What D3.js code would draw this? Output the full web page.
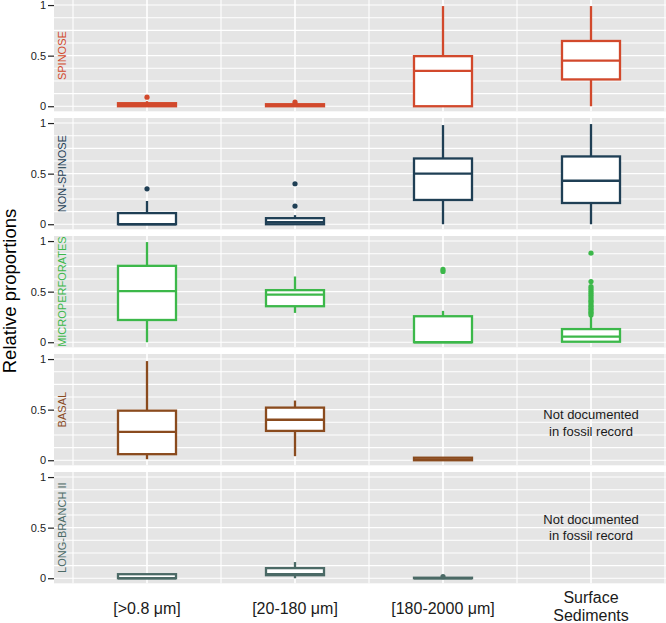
<!DOCTYPE html>
<html>
<head>
<meta charset="utf-8">
<script src="https://cdn.jsdelivr.net/npm/d3@7"></script>
<style>
  html, body { margin: 0; padding: 0; background: #ffffff; }
  svg { display: block; font-family: "Liberation Sans", Arial, sans-serif; }
</style>
</head>
<body>
<svg id="chart" width="666" height="623"></svg>
<script>
// ---------- data ----------
const categories = ["[>0.8 μm]", "[20-180 μm]", "[180-2000 μm]", "Surface\nSediments"];
const groups = ["SPINOSE", "NON-SPINOSE", "MICROPERFORATES", "BASAL", "LONG-BRANCH II"];
const groupColors = ["#d2492c", "#1f3f55", "#3cb84a", "#8a4b1e", "#4b6a66"];
const yTicks = [0, 0.5, 1];
const yTickLabels = ["0", "0.5", "1"];

// box statistics per category: [whiskerLow, q1, median, q3, whiskerHigh]
const spinoseStats = [[0, 0, 0.01, 0.03, 0.05], [0, 0, 0.005, 0.02, 0.03], [0, 0, 0.35, 0.495, 0.99], [0, 0.265, 0.45, 0.645, 0.99]];
const spinoseOutliers = [[0.09], [0.04], [], []];

const nonSpinoseStats = [[0, 0, 0, 0.11, 0.23], [0, 0, 0.02, 0.06, 0.09], [0, 0.24, 0.50, 0.65, 0.98], [0, 0.21, 0.43, 0.67, 0.99]];
const nonSpinoseOutliers = [[0.35], [0.18, 0.40], [], []];

const microStats = [[0, 0.22, 0.505, 0.755, 0.99], [0.29, 0.356, 0.47, 0.515, 0.65], [0, 0, 0, 0.257, 0.31], [0, 0.005, 0.056, 0.13, 0.25]];
const microOutliers = [[], [], [0.70, 0.72],
  [0.27, 0.29, 0.30, 0.32, 0.33, 0.35, 0.36, 0.38, 0.40, 0.41, 0.43, 0.45, 0.47, 0.49, 0.51, 0.53, 0.55, 0.60, 0.88]];

const basalStats = [[0.01, 0.06, 0.28, 0.49, 0.98], [0.04, 0.29, 0.40, 0.52, 0.59], [0, 0, 0.005, 0.025, 0.03], null];
const basalOutliers = [[], [], [], []];

const longBranchStats = [[0, 0, 0, 0.04, 0.04], [0, 0.03, 0.04, 0.10, 0.16], [0, 0, 0, 0.005, 0.005], null];
const longBranchOutliers = [[], [], [0.015], []];

const noteText = ["Not documented", "in fossil record"];
const noteValues = [null, null, null, 0.37, 0.5]; // vertical anchor per panel (null = no note)

const allStats = [spinoseStats, nonSpinoseStats, microStats, basalStats, longBranchStats];
const allOutliers = [spinoseOutliers, nonSpinoseOutliers, microOutliers, basalOutliers, longBranchOutliers];

// ---------- layout ----------
const svg = d3.select("#chart");
const panelLeft = 54, panelRight = 666;
const panelStep = 118, panelHeight = 111.3;
const boxWidth = 58;
const lineW = 2.3;

const x = d3.scalePoint().domain(categories).range([147, 591]);
const step = x.step();
const gridX = d3.range(0.5, 4.51, 0.5).map(k => 147 + (k - 1) * step);
const gridY = d3.range(0, 1.0001, 0.125);

groups.forEach((g, i) => {
  const top = i * panelStep;
  const y = d3.scaleLinear().domain([-0.05, 1.05]).range([top + panelHeight, top]);
  const col = groupColors[i];
  const gp = svg.append("g");

  gp.append("rect").attr("x", panelLeft).attr("y", top)
    .attr("width", panelRight - panelLeft).attr("height", panelHeight)
    .attr("fill", "#e5e5e5");

  gp.selectAll(".hg").data(gridY).enter().append("line")
    .attr("x1", panelLeft).attr("x2", panelRight)
    .attr("y1", d => y(d)).attr("y2", d => y(d))
    .attr("stroke", "#ffffff").attr("stroke-width", 1.1);

  gp.selectAll(".vg").data(gridX.filter(v => v > panelLeft && v < panelRight)).enter().append("line")
    .attr("x1", d => d).attr("x2", d => d)
    .attr("y1", top).attr("y2", top + panelHeight)
    .attr("stroke", "#ffffff").attr("stroke-width", (d, j) => (j % 2 === 1 ? 1.6 : 1.1));

  // y axis
  const axis = d3.axisLeft(y).tickValues(yTicks).tickFormat((d, j) => yTickLabels[j]).tickSize(6).tickPadding(2);
  const ax = svg.append("g").attr("transform", `translate(${panelLeft},0)`).call(axis);
  ax.select(".domain").remove();
  ax.selectAll(".tick line").attr("stroke", "#222").attr("stroke-width", 1.2);
  ax.selectAll(".tick text").attr("fill", "#222").style("font-size", "11px")
    .style("font-family", '"Liberation Sans", Arial, sans-serif');

  // strip label
  gp.append("text")
    .attr("transform", `translate(66,${top + panelHeight / 2}) rotate(-90)`)
    .attr("text-anchor", "middle")
    .attr("fill", col).style("font-size", "11px")
    .text(g);

  // boxes
  allStats[i].forEach((s, c) => {
    if (!s) return;
    const cx = x(categories[c]);
    const [lo, q1, med, q3, hi] = s;
    if (hi > q3) gp.append("line").attr("x1", cx).attr("x2", cx).attr("y1", y(q3)).attr("y2", y(hi))
      .attr("stroke", col).attr("stroke-width", lineW);
    if (lo < q1) gp.append("line").attr("x1", cx).attr("x2", cx).attr("y1", y(q1)).attr("y2", y(lo))
      .attr("stroke", col).attr("stroke-width", lineW);
    gp.append("rect").attr("x", cx - boxWidth / 2).attr("width", boxWidth)
      .attr("y", y(q3)).attr("height", Math.max(0, y(q1) - y(q3)))
      .attr("fill", "#ffffff").attr("stroke", col).attr("stroke-width", lineW);
    gp.append("line").attr("x1", cx - boxWidth / 2).attr("x2", cx + boxWidth / 2)
      .attr("y1", y(med)).attr("y2", y(med))
      .attr("stroke", col).attr("stroke-width", lineW);
    gp.selectAll(null).data(allOutliers[i][c]).enter().append("circle")
      .attr("cx", cx).attr("cy", d => y(d)).attr("r", 2.6).attr("fill", col);
  });

  // note
  if (noteValues[i] !== null) {
    const cx = x(categories[3]);
    const ny = y(noteValues[i]);
    noteText.forEach((t, k) => {
      gp.append("text").attr("x", cx).attr("y", ny - 4 + k * 16.7)
        .attr("text-anchor", "middle").attr("fill", "#1a1a1a").style("font-size", "13px").text(t);
    });
  }
});

// x axis labels
categories.forEach(c => {
  const lines = c.split("\n");
  const t = svg.append("text").attr("text-anchor", "middle").attr("fill", "#1a1a1a").style("font-size", "16px");
  const base = lines.length === 1 ? 614 : 603;
  lines.forEach((l, k) => {
    t.append("tspan").attr("x", x(c)).attr("y", base + k * 17.5).text(l);
  });
});

// y axis title
svg.append("text")
  .attr("transform", "translate(16,291) rotate(-90)")
  .attr("text-anchor", "middle").attr("fill", "#000").style("font-size", "18.5px")
  .text("Relative proportions");
</script>
</body>
</html>
